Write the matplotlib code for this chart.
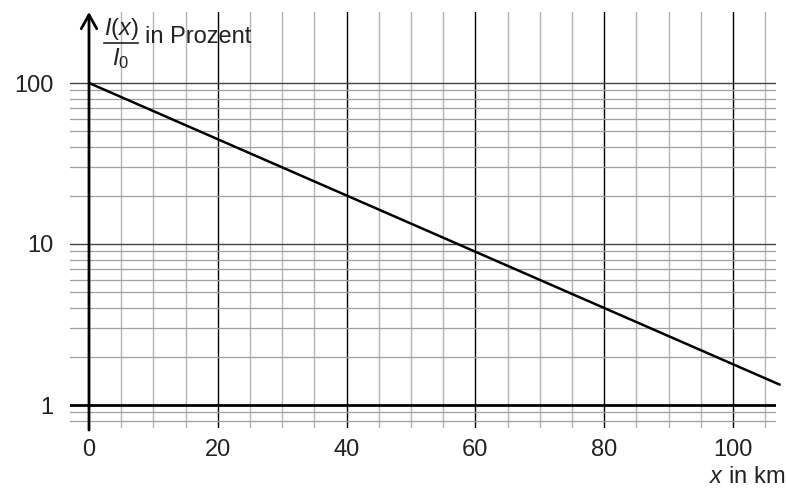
import matplotlib
matplotlib.use("Agg")
import matplotlib.pyplot as plt
import numpy as np

plt.rcParams['font.family'] = ['Liberation Sans', 'DejaVu Sans']
plt.rcParams['mathtext.fontset'] = 'custom'
plt.rcParams['mathtext.rm'] = 'Liberation Sans'
plt.rcParams['mathtext.it'] = 'Liberation Sans:italic'

# data
line_x = [0, 107.4]
line_y = [100, 1.33]
xticks = [0, 20, 40, 60, 80, 100]
yticks = [1, 10, 100]
ytick_labels = ["1", "10", "100"]

TXT = '#222222'
W, H = 786, 488
fig = plt.figure(figsize=(W / 100, H / 100), dpi=100)
xmin, xmax = -2.95, 106.7
ymin = 0.72
px_per_x = 6.44
left_px = 89 + xmin * px_per_x
right_px = 89 + xmax * px_per_x
top_px = 12
ymax = 10 ** (2 + (83 - top_px) / 161)
bot_px = 405 + 161 * np.log10(1 / ymin)
ax = fig.add_axes([left_px / W, 1 - bot_px / H, (right_px - left_px) / W, (bot_px - top_px) / H])
ax.set_yscale('log')
ax.set_xlim(xmin, xmax)
ax.set_ylim(ymin, ymax)
for s in ax.spines.values():
    s.set_visible(False)
ax.tick_params(length=0, labelsize=17, colors=TXT)

# vertical grid
for v in np.arange(5, 106, 5):
    if v % 20 == 0:
        ax.axvline(v, color='black', lw=1.0, zorder=1)
    else:
        ax.axvline(v, color='#b5b5b5', lw=1.0, zorder=1)

# horizontal grid (0.8 .. 100)
hvals = [0.8, 0.9] + [k * 10.0 ** d for d in range(0, 2) for k in range(2, 10)] + [10, 100]
for h in hvals:
    if h in (10, 100):
        ax.axhline(h, color='#444444', lw=1.0, zorder=1)
    else:
        ax.axhline(h, color='#a0a0a0', lw=0.9, zorder=1)

# x-axis at 1
ax.axhline(1, color='black', lw=2.0, zorder=3)

# y-axis with arrow
ax.annotate('', xy=(0, 1.0), xycoords=('data', 'axes fraction'),
            xytext=(0, -0.005), textcoords=('data', 'axes fraction'),
            arrowprops=dict(arrowstyle='->,head_length=0.5,head_width=0.28', lw=2.0,
                            color='black', mutation_scale=20, shrinkA=0, shrinkB=0),
            annotation_clip=False, zorder=4)

# data line
ax.plot(line_x, line_y, color='black', lw=1.8, zorder=5, clip_on=False, solid_capstyle='butt')

ax.set_xticks(xticks)
ax.set_xticklabels([str(t) for t in xticks])
ax.set_yticks(yticks)
ax.set_yticklabels(ytick_labels)
ax.yaxis.set_minor_locator(matplotlib.ticker.NullLocator())
ax.tick_params(axis='x', pad=8)
ax.tick_params(axis='y', pad=12)

# y label as a stacked fraction
fig.text(121 / W, 1 - 29 / H, r'$I(x)$', fontsize=17, va='center', ha='center', color=TXT)
fig.add_artist(plt.Line2D([104 / W, 138 / W], [1 - 43 / H, 1 - 43 / H], color=TXT, lw=1.2))
fig.text(121 / W, 1 - 59 / H, r'$I_{\mathrm{0}}$', fontsize=17, va='center', ha='center', color=TXT)
fig.text(145 / W, 1 - 37 / H, 'in Prozent', fontsize=17, va='center', ha='left', color=TXT)
fig.text(785 / W, 1 - 477 / H, r'$x$ in km', fontsize=17, va='center', ha='right', color=TXT)

fig.savefig('out.png', dpi=100)
